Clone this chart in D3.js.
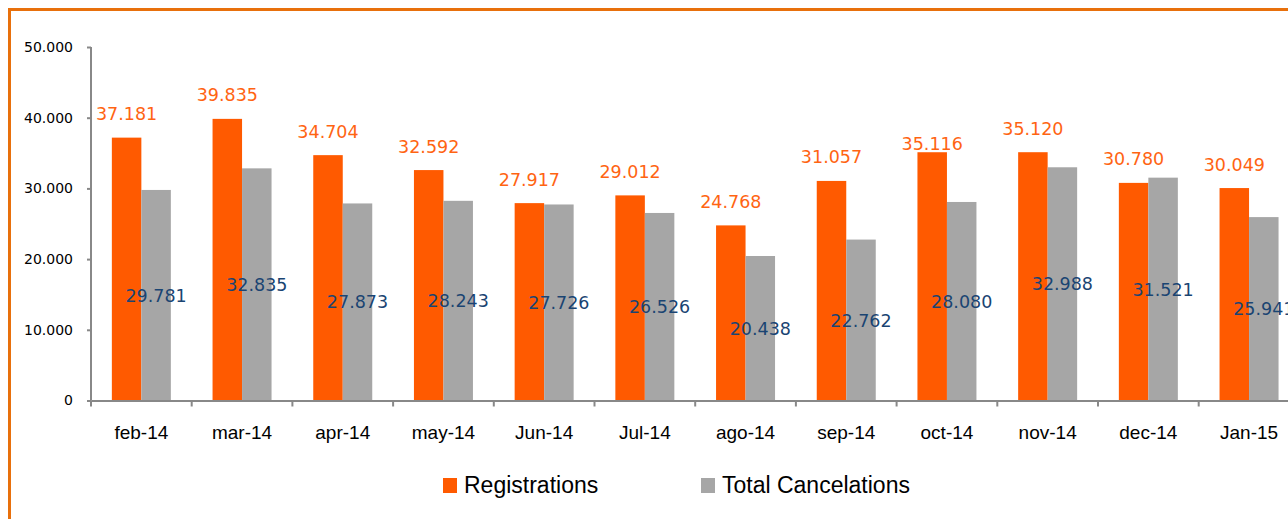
<!DOCTYPE html>
<html>
<head>
<meta charset="utf-8">
<script src="https://cdn.jsdelivr.net/npm/d3@7"></script>
<style>
    html, body { margin: 0; padding: 0; background: #fff; overflow: hidden; }
    svg { display: block; }
</style>
</head>
<body>
<svg id="chart"></svg>
<script>
// Chart data
const months = ['feb-14', 'mar-14', 'apr-14', 'may-14', 'Jun-14', 'Jul-14', 'ago-14', 'sep-14', 'oct-14', 'nov-14', 'dec-14', 'Jan-15'];
const registrations = [37181, 39835, 34704, 32592, 27917, 29012, 24768, 31057, 35116, 35120, 30780, 30049];
const cancelations = [29781, 32835, 27873, 28243, 27726, 26526, 20438, 22762, 28080, 32988, 31521, 25941];
const yTicks = [0, 10000, 20000, 30000, 40000, 50000];
const seriesNames = ['Registrations', 'Total Cancelations'];

// the oct-14 label sits lower in the original
const labelNudge = {'oct-14': 15};

const colors = {reg: '#FF5A00', canc: '#A6A6A6', regText: '#FF6412', cancText: '#1A4472'};

const W = 1288, H = 519;
const svg = d3.select('#chart').attr('width', W).attr('height', H);

// Orange frame (right and bottom sides fall outside the picture)
svg.append('rect')
    .attr('x', 9.5).attr('y', 9.5)
    .attr('width', 1400).attr('height', 600)
    .attr('fill', 'none')
    .attr('stroke', '#E8700C')
    .attr('stroke-width', 3);

const nf = d3.formatLocale({decimal: ',', thousands: '.', grouping: [3], currency: ['', '']}).format(',d');

// Scales
const x0 = 91, bandStep = 100.7;
const x = d3.scaleBand()
    .domain(months)
    .range([x0, x0 + bandStep * months.length]);

const barW = 29.5;
const gap = (x.bandwidth() - barW * 2) / 2;
const xs = d3.scaleBand()
    .domain(['reg', 'canc'])
    .range([gap, x.bandwidth() - gap]);

const y = d3.scaleLinear()
    .domain([0, 50000])
    .range([400.5, 47]);

// Y axis
const yAxis = svg.append('g')
    .attr('transform', `translate(${x0},0)`)
    .call(d3.axisLeft(y).tickValues(yTicks).tickSize(4).tickPadding(14).tickFormat(d => nf(d)));
yAxis.select('.domain').attr('stroke', '#888').attr('stroke-width', 2).attr('d', `M0,${y(50000)}V${y(0)}`);
yAxis.selectAll('.tick line').attr('stroke', '#888').attr('stroke-width', 2);
yAxis.selectAll('.tick text')
    .attr('fill', '#000')
    .style('font-family', '"DejaVu Sans", Verdana, sans-serif')
    .style('font-size', '14px');

// Bars
const groups = svg.selectAll('.month')
    .data(months)
    .enter()
    .append('g')
    .attr('class', 'month')
    .attr('transform', d => `translate(${x(d)},0)`);

groups.append('rect')
    .attr('x', xs('reg'))
    .attr('y', (d, i) => y(registrations[i]))
    .attr('width', xs.bandwidth())
    .attr('height', (d, i) => y(0) - y(registrations[i]))
    .attr('fill', colors.reg);

groups.append('rect')
    .attr('x', xs('canc'))
    .attr('y', (d, i) => y(cancelations[i]))
    .attr('width', xs.bandwidth())
    .attr('height', (d, i) => y(0) - y(cancelations[i]))
    .attr('fill', colors.canc);

// X axis
const xAxis = svg.append('g')
    .attr('transform', `translate(0,${y(0)})`)
    .call(d3.axisBottom(x).tickSize(0).tickPadding(20));
xAxis.select('.domain').attr('stroke', '#888').attr('stroke-width', 2);
xAxis.selectAll('.tick text')
    .attr('fill', '#000')
    .attr('dy', '0.95em')
    .style('font-family', '"Liberation Sans", Arial, sans-serif')
    .style('font-size', '19px');

// category separators
svg.append('g')
    .selectAll('line')
    .data(months.concat(['end']))
    .enter()
    .append('line')
    .attr('x1', (d, i) => x0 + i * x.step())
    .attr('x2', (d, i) => x0 + i * x.step())
    .attr('y1', y(0))
    .attr('y2', y(0) + 6)
    .attr('stroke', '#888')
    .attr('stroke-width', 2);

// Value labels
groups.append('text')
    .attr('x', xs('reg') + xs.bandwidth() / 2)
    .attr('y', (d, i) => y(registrations[i]) - 17.5 + (labelNudge[d] || 0))
    .attr('text-anchor', 'middle')
    .attr('fill', colors.regText)
    .style('font-family', '"DejaVu Sans", Verdana, sans-serif')
    .style('font-size', '17.5px')
    .text((d, i) => nf(registrations[i]));

groups.append('text')
    .attr('x', xs('canc') + xs.bandwidth() / 2)
    .attr('y', (d, i) => (y(cancelations[i]) + y(0)) / 2 + 6.5)
    .attr('text-anchor', 'middle')
    .attr('fill', colors.cancText)
    .style('font-family', '"DejaVu Sans", Verdana, sans-serif')
    .style('font-size', '17.5px')
    .text((d, i) => nf(cancelations[i]));

// Legend
const legend = svg.append('g').attr('transform', 'translate(0,493)');
const legendX = [443, 701];
const legendColors = [colors.reg, colors.canc];
seriesNames.forEach((name, i) => {
    legend.append('rect')
        .attr('x', legendX[i])
        .attr('y', -15)
        .attr('width', 14)
        .attr('height', 15)
        .attr('fill', legendColors[i]);
    legend.append('text')
        .attr('x', legendX[i] + 21)
        .attr('y', 0)
        .attr('fill', '#000')
        .style('font-family', '"Liberation Sans", Arial, sans-serif')
        .style('font-size', '23px')
        .text(name);
});
</script>
</body>
</html>
